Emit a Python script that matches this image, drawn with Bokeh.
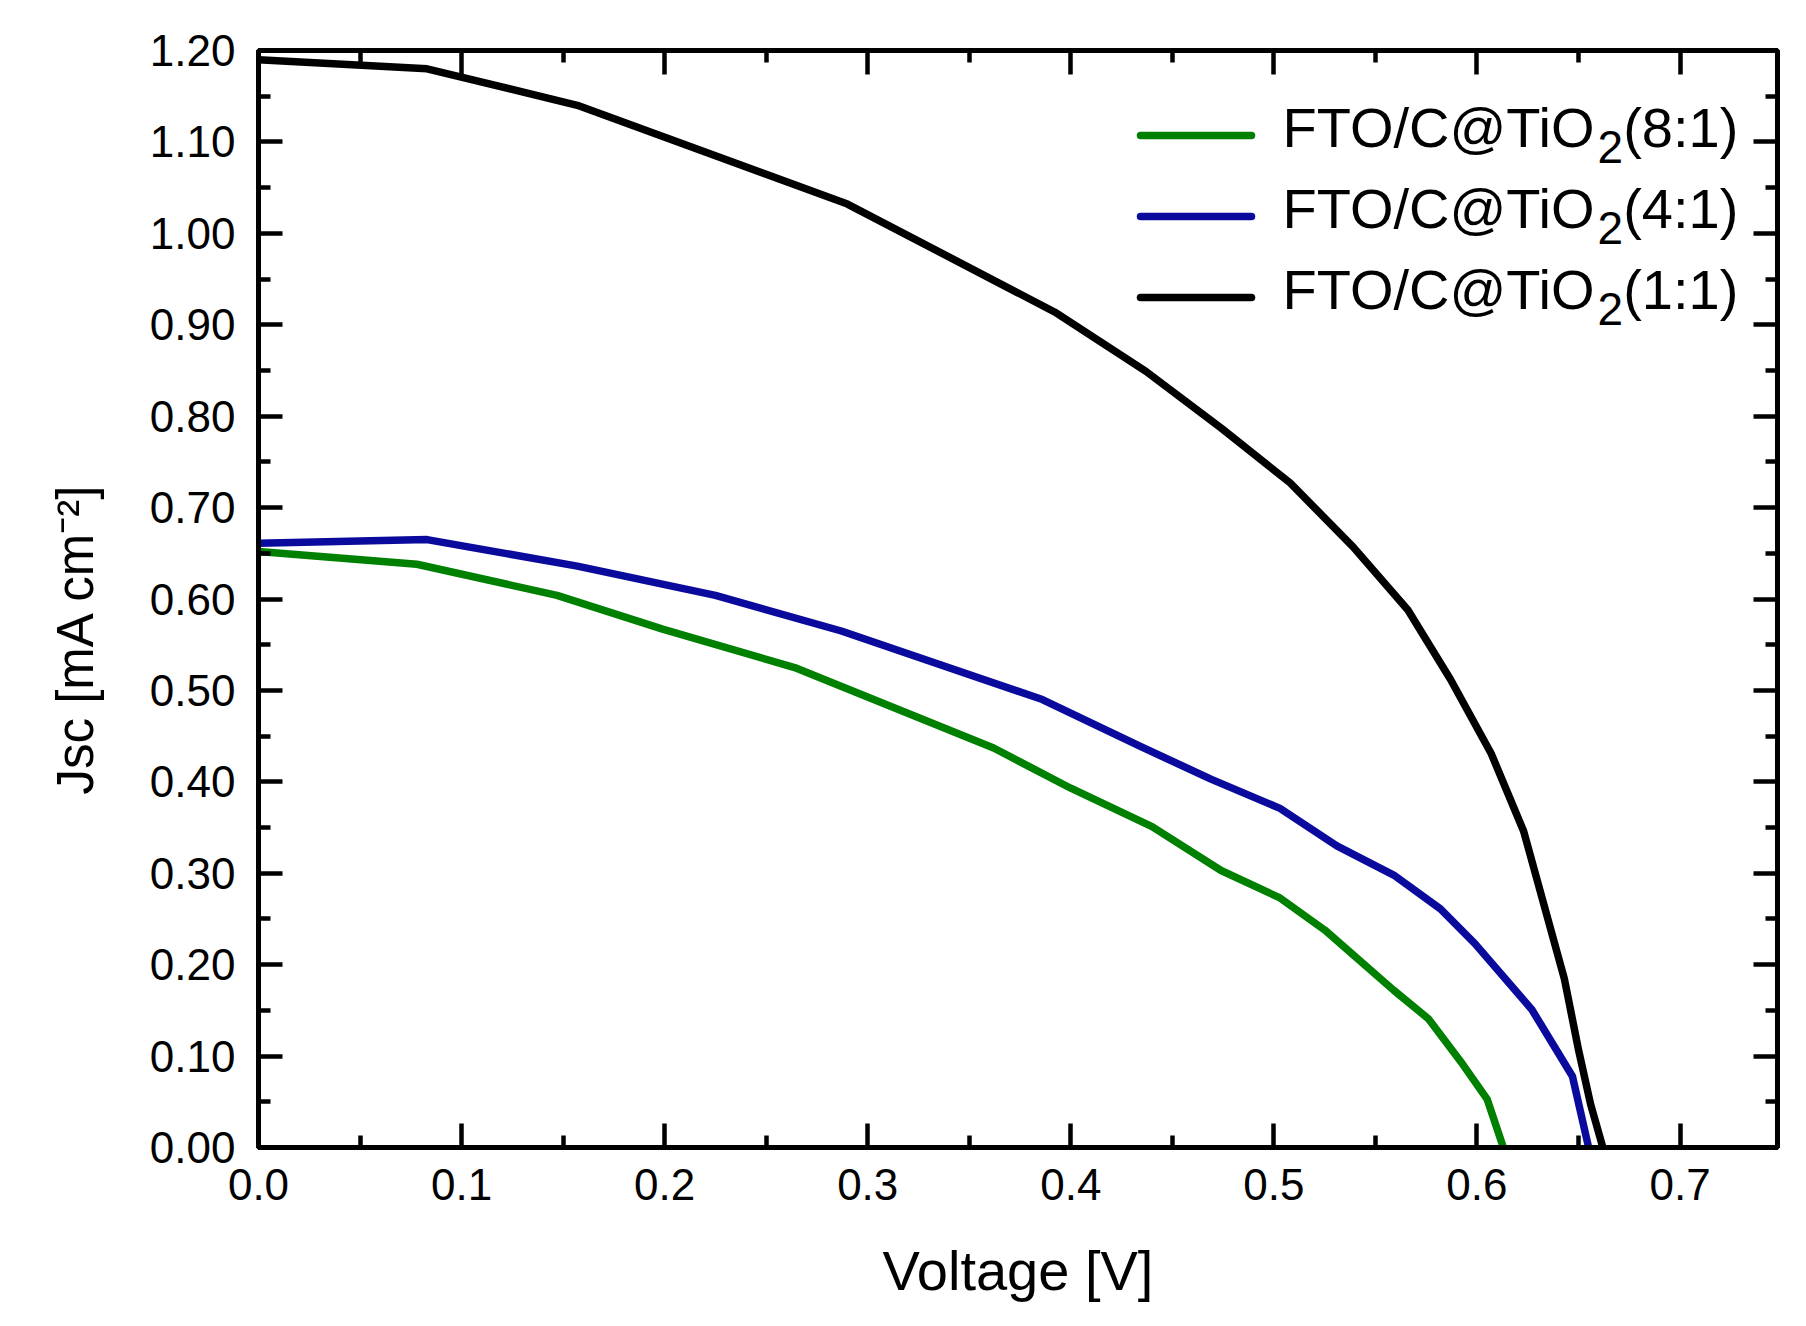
from bokeh.plotting import figure
from bokeh.models import (LinearAxis, FixedTicker, NumeralTickFormatter,
                          CustomJSTickFormatter, Range1d, Label, Arrow, Title)
from bokeh.embed import file_html
from bokeh.resources import INLINE

# ---- data ----
v_11 = [0.0, 0.083, 0.157, 0.290, 0.392, 0.437, 0.474, 0.508, 0.539, 0.566,
        0.587, 0.607, 0.623, 0.643, 0.650, 0.656, 0.662]
j_11 = [1.190, 1.180, 1.140, 1.032, 0.914, 0.849, 0.787, 0.727, 0.657, 0.588,
        0.512, 0.431, 0.346, 0.185, 0.107, 0.047, 0.0]

v_41 = [0.0, 0.083, 0.157, 0.225, 0.287, 0.386, 0.434, 0.469, 0.503, 0.531,
        0.559, 0.582, 0.599, 0.627, 0.647, 0.655]
j_41 = [0.661, 0.665, 0.636, 0.604, 0.565, 0.490, 0.439, 0.403, 0.371, 0.330,
        0.298, 0.261, 0.223, 0.151, 0.078, 0.0]

v_81 = [0.0, 0.078, 0.147, 0.199, 0.264, 0.362, 0.400, 0.440, 0.474, 0.503,
        0.525, 0.559, 0.576, 0.593, 0.605, 0.613]
j_81 = [0.652, 0.638, 0.604, 0.567, 0.525, 0.437, 0.393, 0.351, 0.303, 0.273,
        0.238, 0.172, 0.141, 0.091, 0.053, 0.0]

x_ticks = [0.0, 0.1, 0.2, 0.3, 0.4, 0.5, 0.6, 0.7]
x_minor = [0.05, 0.15, 0.25, 0.35, 0.45, 0.55, 0.65]
y_ticks = [0.0, 0.1, 0.2, 0.3, 0.4, 0.5, 0.6, 0.7, 0.8, 0.9, 1.0, 1.1, 1.2]
y_minor = [0.05, 0.15, 0.25, 0.35, 0.45, 0.55, 0.65, 0.75, 0.85, 0.95, 1.05, 1.15]

series_names = ["(8:1)", "(4:1)", "(1:1)"]
series_colors = ["#008000", "#0A0A9C", "#000000"]
x_label = "Voltage [V]"
y_label = "Jsc [mA cm\u207b\u00b2]"

FONT = "Liberation Sans"

FW, FH = 1519, 1097
p = figure(frame_width=FW, frame_height=FH,
           x_range=Range1d(0, 0.748), y_range=Range1d(0, 1.2),
           output_backend="svg", toolbar_location=None,
           min_border_left=258, min_border_top=50, min_border_right=13,
           min_border_bottom=163)
p.background_fill_color = "white"
p.border_fill_color = "white"
p.grid.visible = False
p.outline_line_color = "black"
p.outline_line_width = 5

for v, j, c in zip([v_81, v_41, v_11], [j_81, j_41, j_11], series_colors):
    p.line(v, j, line_color=c, line_width=7.5, line_join="round")

def style_axis(ax, ticker, show_labels):
    ax.ticker = ticker
    ax.axis_line_width = 5
    ax.axis_line_color = "black"
    ax.major_tick_line_width = 4.5
    ax.minor_tick_line_width = 4.5
    ax.major_tick_line_color = "black"
    ax.minor_tick_line_color = "black"
    ax.major_tick_in = 24
    ax.major_tick_out = 0
    ax.minor_tick_in = 12
    ax.minor_tick_out = 0
    if not show_labels:
        ax.formatter = CustomJSTickFormatter(code="return ''")
        ax.major_label_text_font_size = "0px"
        ax.major_label_standoff = 0

def xt():
    return FixedTicker(ticks=x_ticks, minor_ticks=x_minor)

def yt():
    return FixedTicker(ticks=y_ticks, minor_ticks=y_minor)

xa = p.xaxis[0]
style_axis(xa, xt(), True)
xa.formatter = NumeralTickFormatter(format="0.0")
xa.major_label_text_font = FONT
xa.major_label_text_font_size = "44px"
xa.major_label_text_color = "black"
xa.major_label_standoff = 21
xa.axis_label = x_label
xa.axis_label_text_font = FONT
xa.axis_label_text_font_size = "56px"
xa.axis_label_text_font_style = "normal"
xa.axis_label_text_color = "black"
xa.axis_label_standoff = 36

ya = p.yaxis[0]
style_axis(ya, yt(), True)
ya.formatter = NumeralTickFormatter(format="0.00")
ya.major_label_text_font = FONT
ya.major_label_text_font_size = "44px"
ya.major_label_text_color = "black"
ya.major_label_standoff = 23

# y-axis title as a side title, starting a little above the frame bottom
p.add_layout(Title(text=y_label, align="left", offset=353, standoff=86,
                   text_font=FONT, text_font_size="51px",
                   text_font_style="normal", text_color="black"), "left")

top = LinearAxis()
style_axis(top, xt(), False)
p.add_layout(top, "above")
right = LinearAxis()
style_axis(right, yt(), False)
p.add_layout(right, "right")

# ---- legend (screen units, relative to the frame) ----
leg_line_x0, leg_line_x1 = 882, 993
leg_y = [1012, 931, 850]
txt_x = 1024
fs = 56
sub_fs = 46
for name, c, y in zip(series_names, series_colors, leg_y):
    p.add_layout(Arrow(x_start=leg_line_x0, y_start=y, x_end=leg_line_x1, y_end=y,
                       start_units="screen", end_units="screen", end=None,
                       line_color=c, line_width=7.5, line_cap="round"))
    base = y + 8
    p.add_layout(Label(x=txt_x, y=base, x_units="screen", y_units="screen",
                       text="FTO/C@TiO", text_font=FONT, text_font_size=f"{fs}px",
                       text_baseline="alphabetic", text_color="black"))
    x2 = txt_x + 5.626 * fs
    p.add_layout(Label(x=x2, y=base - 19, x_units="screen", y_units="screen",
                       text="2", text_font=FONT, text_font_size=f"{sub_fs}px",
                       text_baseline="alphabetic", text_color="black"))
    x3 = x2 + 0.556 * sub_fs
    p.add_layout(Label(x=x3, y=base, x_units="screen", y_units="screen",
                       text=name, text_font=FONT, text_font_size=f"{fs}px",
                       text_baseline="alphabetic", text_color="black"))

open("out.html", "w").write(file_html(p, INLINE))
